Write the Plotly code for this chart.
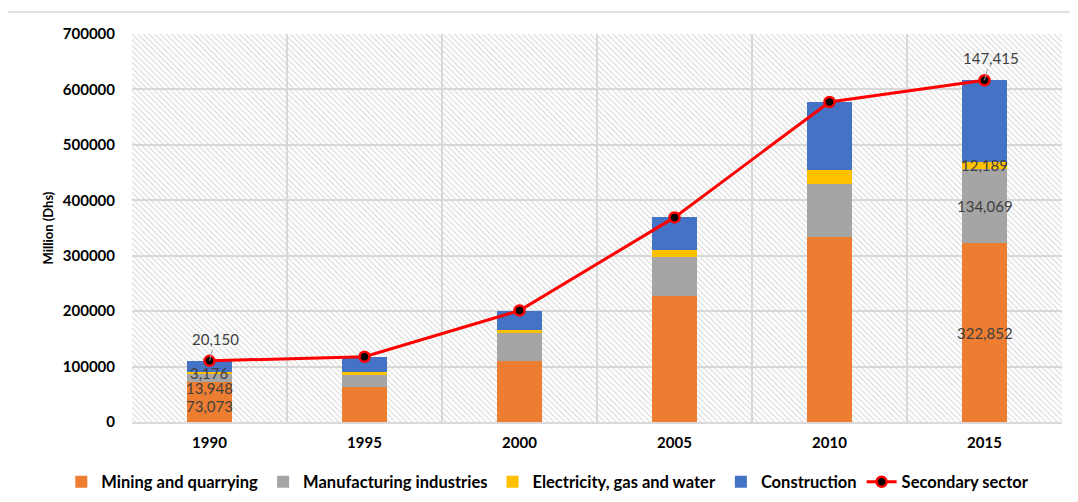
import plotly.graph_objects as go

# ---------------- data ----------------
years = ["1990", "1995", "2000", "2005", "2010", "2015"]
mining = [73073, 62600, 110700, 227600, 333500, 322852]
manufacturing = [13948, 22800, 49400, 70500, 95200, 134069]
electricity = [3176, 4300, 5400, 11900, 25300, 12189]
construction = [20150, 28100, 35600, 59100, 123400, 147415]
secondary = [110347, 117800, 201100, 369100, 577400, 616525]
labelled_years = ["1990", "2015"]
y_ticks = [0, 100000, 200000, 300000, 400000, 500000, 600000, 700000]

AXIS_MAX = 700000
FONT = "Lato"
series = [
    ("Mining and quarrying", mining, "#ED7D31"),
    ("Manufacturing industries", manufacturing, "#A5A5A5"),
    ("Electricity, gas and water", electricity, "#FFC000"),
    ("Construction", construction, "#4472C4"),
]

fig = go.Figure()

# hatched plot-area background
fig.add_trace(go.Bar(
    x=years, y=[AXIS_MAX] * len(years), width=1.0,
    marker=dict(color="#d4d4d4", line=dict(width=0),
                pattern=dict(shape="\\", size=4, solidity=0.25, fillmode="replace")),
    showlegend=False, hoverinfo="skip",
))

# stacked bars (manual bases, overlay mode)
base = [0] * len(years)
bases = {}
for name, vals, color in series:
    bases[name] = list(base)
    fig.add_trace(go.Bar(
        name=name, x=years, y=vals, base=list(base), width=0.29,
        marker=dict(color=color, line=dict(width=0)),
    ))
    base = [b + v for b, v in zip(base, vals)]

fig.add_trace(go.Scatter(
    name="Secondary sector", x=years, y=secondary, mode="lines+markers",
    line=dict(color="#FF0000", width=3),
    marker=dict(color="#000000", size=10, line=dict(color="#FF0000", width=2.5)),
))

# data labels
label_shift = {  # pixel offsets (style)
    ("1990", "Mining and quarrying"): -4.5,
    ("1990", "Manufacturing industries"): -10,
    ("1990", "Electricity, gas and water"): 0,
}
annotations = []
for yr in labelled_years:
    i = years.index(yr)
    for name, vals, color in series:
        if name == "Construction":
            annotations.append(dict(
                x=i, y=bases[name][i] + vals[i], text=f"{vals[i]:,}",
                showarrow=True, arrowhead=0, arrowwidth=1, arrowcolor="#a6a6a6",
                ax=6, ay=-22, font=dict(family=FONT, size=15, color="#404040"),
            ))
        else:
            annotations.append(dict(
                x=i, y=bases[name][i] + vals[i] / 2, text=f"{vals[i]:,}",
                showarrow=False, yshift=label_shift.get((yr, name), 0),
                font=dict(family=FONT, size=15, color="#404040"),
            ))

fig.update_layout(
    width=1078, height=502,
    margin=dict(l=124, r=24, t=26, b=88, autoexpand=False),
    paper_bgcolor="white", plot_bgcolor="white",
    barmode="overlay", bargap=0,
    font=dict(family=FONT, size=14, color="#000000"),
    annotations=annotations,
    legend=dict(orientation="h", x=-0.076, xanchor="left", y=-0.1546, yanchor="middle",
                font=dict(family=FONT, size=16.5, color="#000000", weight="bold"),
                itemwidth=30, traceorder="normal", tracegroupgap=0),
    shapes=[dict(type="rect", xref="paper", yref="paper",
                 x0=-0.1344, x1=1.04, y0=-0.3, y1=1.0567,
                 line=dict(color="#d9d9d9", width=1.5), layer="below")],
)
fig.update_xaxes(
    type="category", range=[-0.5, len(years) - 0.5],
    tickson="boundaries", showgrid=True, gridcolor="#d9d9d9", gridwidth=1.5,
    showline=True, linecolor="#d9d9d9", linewidth=1.5, ticks="",
    tickfont=dict(family=FONT, size=15, color="#000000", weight="bold"),
    ticklabelstandoff=6,
)
fig.update_yaxes(
    range=[0, AXIS_MAX], tickvals=y_ticks, tickformat="d",
    showgrid=True, gridcolor="#d9d9d9", gridwidth=1.5, zeroline=False,
    tickfont=dict(family=FONT, size=15, color="#000000", weight="bold"),
    ticklabelstandoff=16,
    title=dict(text="Million (Dhs)", standoff=6,
               font=dict(family=FONT, size=13, color="#000000", weight="bold")),
)

fig.write_html("out.html")
